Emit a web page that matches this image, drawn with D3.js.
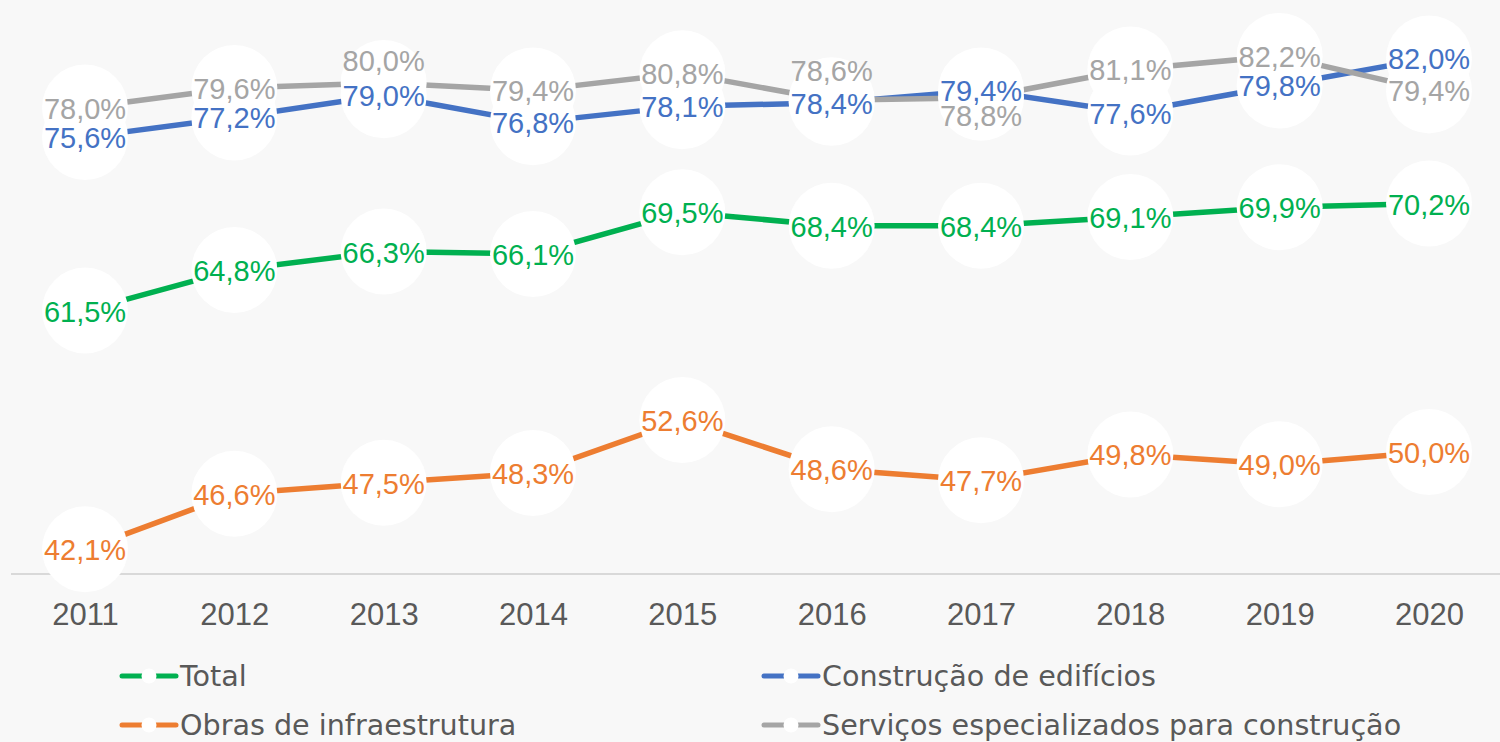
<!DOCTYPE html>
<html lang="pt-BR">
<head>
  <meta charset="utf-8">
  <title>Construção - séries 2011-2020</title>
  <script src="https://d3js.org/d3.v7.min.js"></script>
  <style>
    html, body { margin: 0; padding: 0; background: #f8f8f8; }
    svg { display: block; }
    .lbl { font-family: "Liberation Sans", Arial, sans-serif; font-size: 29px; }
    .year { font-family: "Liberation Sans", Arial, sans-serif; font-size: 31px; fill: #595959; }
    .legend text { font-family: "DejaVu Sans", sans-serif; font-size: 28.6px; fill: #595959; }
  </style>
</head>
<body>
<div id="chart"></div>
<script>
  // data
  var years = ["2011", "2012", "2013", "2014", "2015", "2016", "2017", "2018", "2019", "2020"];
  var total = [61.5, 64.8, 66.3, 66.1, 69.5, 68.4, 68.4, 69.1, 69.9, 70.2];
  var edificios = [75.6, 77.2, 79.0, 76.8, 78.1, 78.4, 79.4, 77.6, 79.8, 82.0];
  var infra = [42.1, 46.6, 47.5, 48.3, 52.6, 48.6, 47.7, 49.8, 49.0, 50.0];
  var servicos = [78.0, 79.6, 80.0, 79.4, 80.8, 78.6, 78.8, 81.1, 82.2, 79.4];
  var seriesNames = ["Total", "Construção de edifícios", "Obras de infraestrutura", "Serviços especializados para construção"];

  var colors = ["#00b050", "#4472c4", "#ed7d31", "#a5a5a5"];
  // label shifts (px) where excel moved a label off the point
  var labelShift = [
    [0, 0, 0, 0, 0, 0, 0, 0, 0, 0],
    [0, 0, 0, 0, 0, 0, 0, 0, 0, 0],
    [0, 0, 0, 0, 0, 0, 0, 0, 0, 0],
    [0, 0, -23, 0, 0, -30, 17, 0, 0, 0]
  ];

  var series = [total, edificios, infra, servicos].map(function(vals, i) {
    return { name: seriesNames[i], color: colors[i], values: vals, shift: labelShift[i] };
  });

  var W = 1500, H = 742;
  var svg = d3.select("#chart").append("svg")
    .attr("width", W)
    .attr("height", H);

  var x = d3.scalePoint().domain(years).range([85, 1429]);
  var y = d3.scaleLinear().domain([40, 85]).range([575, 21.5]);

  // baseline
  svg.append("line")
    .attr("x1", 11).attr("x2", W)
    .attr("y1", 574).attr("y2", 574)
    .attr("stroke", "#d9d9d9")
    .attr("stroke-width", 2);

  var xAxis = d3.axisBottom(x).tickSize(0).tickPadding(0);
  var gx = svg.append("g").attr("transform", "translate(0,574)").call(xAxis);
  gx.select(".domain").remove();
  gx.attr("font-size", null).attr("font-family", null);
  gx.selectAll("text")
    .attr("class", "year")
    .attr("y", 51)
    .attr("dy", 0);

  var line = d3.line()
    .x(function(d, i) { return x(years[i]); })
    .y(function(d) { return y(d); });

  // lines first
  svg.append("g").selectAll("path")
    .data(series)
    .join("path")
    .attr("d", function(s) { return line(s.values); })
    .attr("fill", "none")
    .attr("stroke", function(s) { return s.color; })
    .attr("stroke-width", 5.5)
    .attr("stroke-linejoin", "round");

  // big white markers
  series.forEach(function(s) {
    svg.append("g").selectAll("circle")
      .data(s.values)
      .join("circle")
      .attr("cx", function(d, i) { return x(years[i]); })
      .attr("cy", function(d) { return y(d); })
      .attr("r", 43)
      .attr("fill", "#ffffff");
  });

  var fmt = function(v) { return d3.format(".1f")(v).replace(".", ",") + "%"; };

  series.forEach(function(s) {
    svg.append("g").selectAll("text")
      .data(s.values)
      .join("text")
      .attr("class", "lbl")
      .attr("x", function(d, i) { return x(years[i]); })
      .attr("y", function(d, i) { return y(d) + s.shift[i] + 11; })
      .attr("text-anchor", "middle")
      .attr("fill", s.color)
      .text(fmt);
  });

  // legend
  var legPos = [[120, 676], [762, 676], [120, 725], [762, 725]];
  var leg = svg.append("g").attr("class", "legend")
    .selectAll("g")
    .data(series)
    .join("g")
    .attr("transform", function(d, i) { return "translate(" + legPos[i][0] + "," + legPos[i][1] + ")"; });

  leg.append("line")
    .attr("x1", 2).attr("x2", 56)
    .attr("stroke", function(d) { return d.color; })
    .attr("stroke-width", 5)
    .attr("stroke-linecap", "round");
  leg.append("circle")
    .attr("cx", 29).attr("r", 7.5)
    .attr("fill", "#ffffff");
  leg.append("text")
    .attr("x", 60)
    .attr("y", 10)
    .text(function(d) { return d.name; });
</script>
</body>
</html>
